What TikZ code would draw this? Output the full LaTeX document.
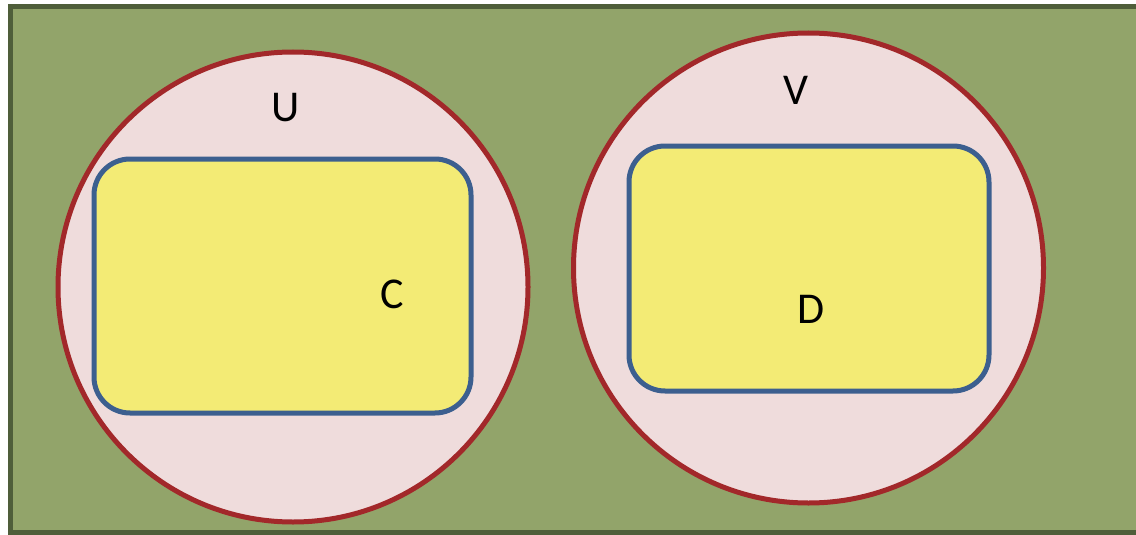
\documentclass[tikz,border=0pt]{standalone}
\usepackage{fontspec}
\setmainfont{Carlito}
\definecolor{bggreen}{HTML}{92A46A}
\definecolor{bgborder}{HTML}{4F5E3A}
\definecolor{circfill}{HTML}{EFDCDC}
\definecolor{circline}{HTML}{A2282A}
\definecolor{rectfill}{HTML}{F3EB75}
\definecolor{rectline}{HTML}{3C5F8F}
\tikzset{
  setcircle/.style={draw=circline, fill=circfill, line width=5pt},
  setbox/.style={draw=rectline, fill=rectfill, line width=5pt, rounded corners=36pt},
  lbl/.style={font=\fontsize{44}{48}\selectfont, text=black, inner sep=0pt}
}
\begin{document}
\begin{tikzpicture}[x=1pt,y=-1pt]
\useasboundingbox (0,0) rectangle (1136,535);
\begin{scope}
\clip (0,0) rectangle (1136,535);
\draw[draw=bgborder, fill=bggreen, line width=5pt] (10.5,6.5) rectangle (1145,532.5);
\end{scope}
\draw[setcircle] (293,287) circle[radius=235];
\draw[setcircle] (808.5,268) circle[radius=235];
\draw[setbox] (94,159) rectangle (471,413);
\draw[setbox] (629,146) rectangle (989,391);
\node[lbl] (U) at (286,108) {U};
\node[lbl] (C) at (392,294) {C};
\node[lbl] (V) at (796,90) {V};
\node[lbl] (D) at (811,309) {D};
\end{tikzpicture}
\end{document}
